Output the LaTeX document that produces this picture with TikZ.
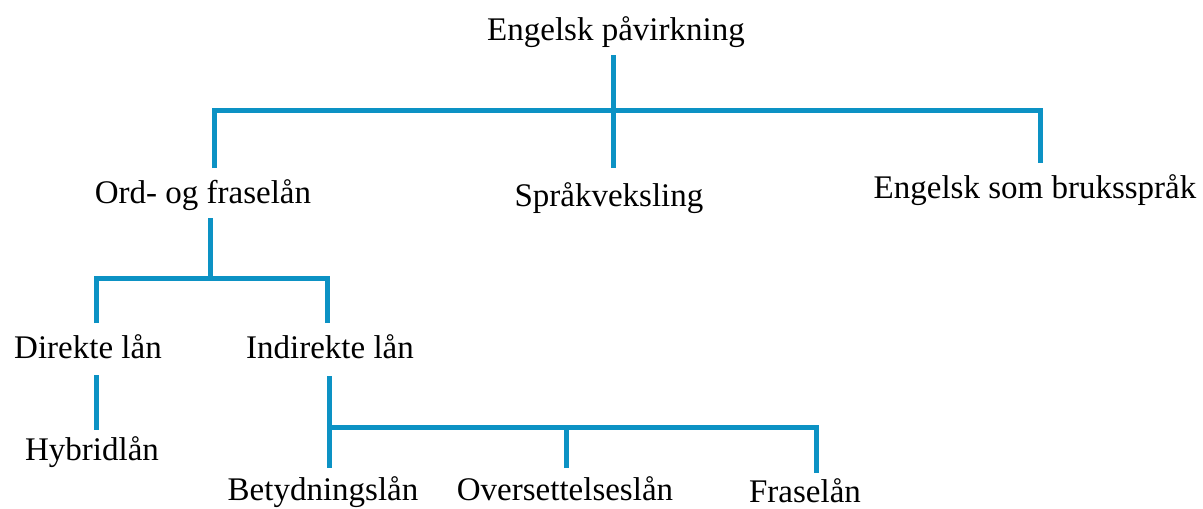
\documentclass[tikz,border=0pt]{standalone}
\usepackage{fontspec}
\setmainfont{Liberation Serif}
\definecolor{lineblue}{RGB}{12,146,196}
\begin{document}
\begin{tikzpicture}[x=1pt,y=-1pt,
  lbl/.style={font=\fontsize{33}{40}\selectfont, anchor=base, inner sep=0pt},
  conn/.style={line width=5pt, draw=lineblue, line join=miter}]
\useasboundingbox (0,0) rectangle (1203,509);
% labels
\node[lbl] (root)  at (616,40)  {Engelsk påvirkning};
\node[lbl] (ord)   at (203,203) {Ord- og fraselån};
\node[lbl] (sprak) at (609,206) {Språkveksling};
\node[lbl] (bruk)  at (1035,198) {Engelsk som bruksspråk};
\node[lbl] (dir)   at (88,358)  {Direkte lån};
\node[lbl] (indir) at (330,358) {Indirekte lån};
\node[lbl] (hyb)   at (92,460)  {Hybridlån};
\node[lbl] (bet)   at (323,500) {Betydningslån};
\node[lbl] (ovs)   at (565,500) {Oversettelseslån};
\node[lbl, text depth=0pt] (fras)  at (805,502) {Fraselån};
% connector points
\coordinate (rootb)  at (613,55);
\coordinate (j1)     at (613,110);
\coordinate (ordt)   at (214,168);
\coordinate (sprakt) at (613,168);
\coordinate (brukt)  at (1040,163);
\coordinate (ordb)   at (210,218);
\coordinate (j2)     at (210,278);
\coordinate (dirt)   at (96,323);
\coordinate (indirt) at (327,323);
\coordinate (dirb)   at (96,375);
\coordinate (hybt)   at (96,430);
\coordinate (indirb) at (329,376);
\coordinate (j3)     at (329,427);
\coordinate (bett)   at (329,468);
\coordinate (ovst)   at (566,468);
\coordinate (frast)  at (816,473);
% connectors
\draw[conn] (rootb) -- (sprakt);
\draw[conn] (ordt) |- (j1) -| (brukt);
\draw[conn] (ordb) -- (j2);
\draw[conn] (dirt) |- (j2) -| (indirt);
\draw[conn] (dirb) -- (hybt);
\draw[conn] (indirb) -- (bett);
\draw[conn] (j3) -| (frast);
\draw[conn] (ovst) -- (ovst |- j3);
\end{tikzpicture}
\end{document}
